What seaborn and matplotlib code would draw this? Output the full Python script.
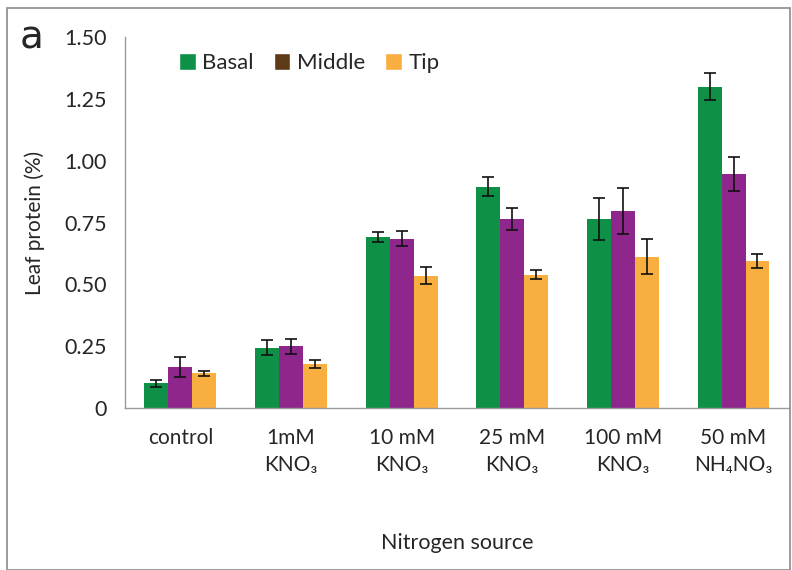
import pandas as pd
import matplotlib.pyplot as plt
import seaborn as sns
from matplotlib.patches import Patch, Rectangle

sns.set_theme(style="white")
plt.rcParams['font.family'] = ['Lato', 'DejaVu Sans']

# Data
sources = ['control', '1mM\nKNO₃', '10 mM\nKNO₃', '25 mM\nKNO₃', '100 mM\nKNO₃', '50 mM\nNH₄NO₃']
basal = [0.10, 0.245, 0.69, 0.895, 0.765, 1.30]
middle = [0.165, 0.25, 0.685, 0.765, 0.795, 0.945]
tip = [0.14, 0.178, 0.535, 0.54, 0.612, 0.595]
basal_err = [0.015, 0.03, 0.02, 0.038, 0.086, 0.054]
middle_err = [0.04, 0.03, 0.03, 0.045, 0.093, 0.069]
tip_err = [0.012, 0.015, 0.035, 0.02, 0.07, 0.027]

parts = ['Basal', 'Middle', 'Tip']
colors = {'Basal': '#0E9147', 'Middle': '#8E268C', 'Tip': '#F9AE40'}
legend_colors = {'Basal': '#0E9147', 'Middle': '#5E3A16', 'Tip': '#F9AE40'}

df = pd.DataFrame({
    'source': sources * 3,
    'part': [p for p in parts for _ in sources],
    'value': basal + middle + tip,
    'err': basal_err + middle_err + tip_err,
})

fig = plt.figure(figsize=(7.92, 5.70), dpi=100)
ax = fig.add_axes([0.158, 0.284, 0.838, 0.651])

sns.barplot(data=df, x='source', y='value', hue='part', hue_order=parts,
            order=sources, palette=colors, width=0.65, saturation=1,
            linewidth=0, ax=ax, legend=False)

# Error bars at the bar centres
for bars, p in zip(ax.containers, parts):
    sub = df[df['part'] == p]
    xs = [b.get_x() + b.get_width() / 2 for b in bars]
    ys = [b.get_height() for b in bars]
    ax.errorbar(xs, ys, yerr=sub['err'].values, fmt='none', ecolor='#111111',
                elinewidth=1.2, capsize=4, capthick=1.2)

ax.set_xlim(-0.5, len(sources) - 0.5)
ax.set_ylim(0, 1.5)
ax.set_yticks([0, 0.25, 0.5, 0.75, 1.0, 1.25, 1.5])
ax.set_yticklabels(['0', '0.25', '0.50', '0.75', '1.00', '1.25', '1.50'])
ax.set_xticks(range(len(sources)))
ax.set_xticklabels(sources, fontsize=15, linespacing=1.45)
ax.set_xticks([i - 0.5 for i in range(len(sources) + 1)], minor=True)
ax.tick_params(axis='x', which='major', length=0, pad=14)
ax.tick_params(axis='x', which='minor', length=6, color='#9a9a9a', width=1)
ax.tick_params(axis='y', length=6, color='#9a9a9a', width=1, labelsize=15.5, pad=7)

for s in ['top', 'right']:
    ax.spines[s].set_visible(False)
for s in ['left', 'bottom']:
    ax.spines[s].set_color('#9a9a9a')
    ax.spines[s].set_linewidth(1)

ax.set_ylabel('Leaf protein (%)', fontsize=15, labelpad=14)
ax.set_xlabel('Nitrogen source', fontsize=15.5, labelpad=42)

handles = [Patch(facecolor=legend_colors[p], label=p) for p in parts]
ax.legend(handles=handles, loc='upper left', bbox_to_anchor=(0.051, 1.01),
          ncol=3, frameon=False, fontsize=16, handlelength=0.75,
          handleheight=0.75, handletextpad=0.3, columnspacing=0.9)

fig.text(0.025, 0.915, 'a', fontsize=28, family='DejaVu Sans')
fig.patches.append(Rectangle((0.009, 0.0), 0.988, 0.986, transform=fig.transFigure,
                             fill=False, edgecolor='#8a8a8a', linewidth=1.2))

fig.savefig('out.png', dpi=100)
